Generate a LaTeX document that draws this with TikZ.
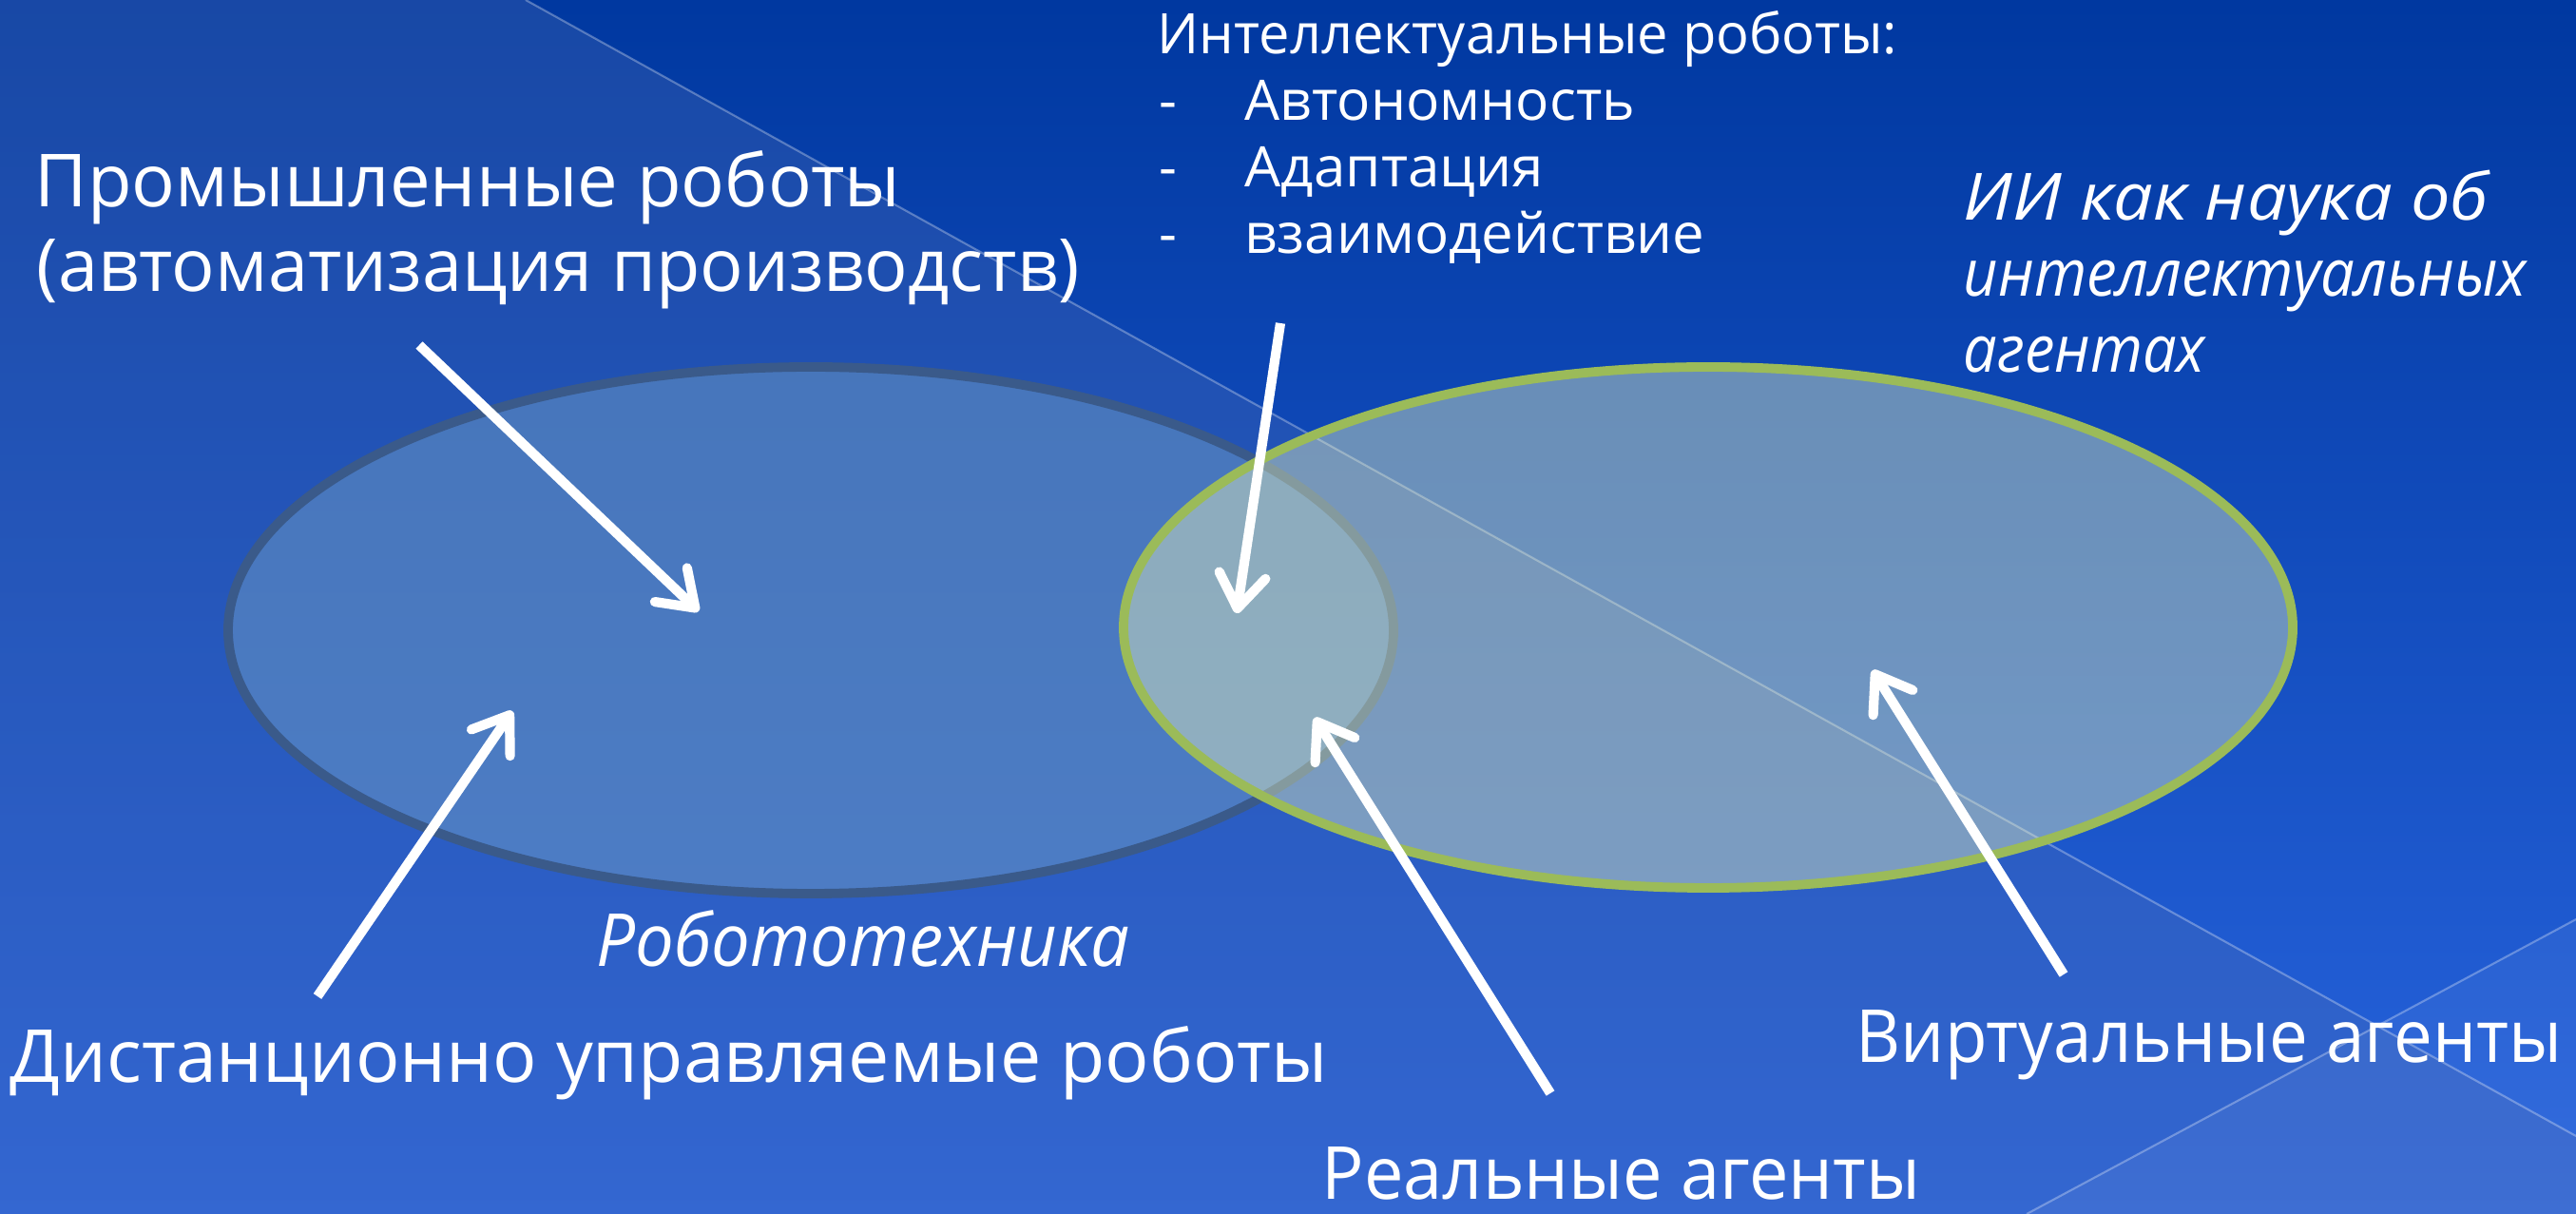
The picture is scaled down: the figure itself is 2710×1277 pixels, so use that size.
\documentclass[tikz,border=0pt]{standalone}
\usepackage{fontspec}
\usepackage{graphicx}
\setmainfont{Open Sans}
\usetikzlibrary{arrows.meta}
\newsavebox\fitbox
\newcommand\fitx[2]{\sbox\fitbox{#2}\pgfmathsetmacro\fitratio{#1*0.28453/\the\wd\fitbox}\scalebox{\fitratio}[1]{\usebox\fitbox}}
\definecolor{bgtop}{RGB}{0,56,160}
\definecolor{bgbot}{RGB}{40,100,222}
\definecolor{overlayA}{RGB}{80,110,180}
\definecolor{leftfill}{RGB}{110,155,196}
\definecolor{leftstroke}{RGB}{58,90,138}
\definecolor{rightfill}{RGB}{245,252,190}
\definecolor{rightstroke}{RGB}{155,187,89}
\begin{document}
\begin{tikzpicture}[x=0.01cm,y=-0.01cm,
  txt/.style={text=white, inner sep=0pt, anchor=base west, font=\fontsize{21.9}{26}\selectfont},
  itxt/.style={txt, font=\fontsize{21.9}{26}\selectfont\itshape},
  listtxt/.style={txt, font=\fontsize{16.7}{20}\selectfont},
  aitxt/.style={txt, font=\fontsize{19.5}{23}\selectfont\itshape},
  arr/.style={draw=white, line width=2.9pt, -{Straight Barb[length=10pt,width=14pt,round]}},
  bgline/.style={draw=white, draw opacity=0.3, line width=0.6pt}]
\useasboundingbox (0,0) rectangle (2710,1277);
% background
\shade[top color=bgtop, bottom color=bgbot] (0,0) rectangle (2710,1277);
\fill[overlayA, opacity=0.3] (0,0) -- (553,0) -- (2710,1195) -- (2710,1277) -- (0,1277) -- cycle;
\fill[white, opacity=0.05] (2132,1277) -- (2710,967) -- (2710,1277) -- cycle;
\coordinate (l1a) at (553,0);
\coordinate (l1b) at (2710,1195);
\coordinate (l2a) at (2132,1277);
\coordinate (l2b) at (2710,967);
\draw[bgline] (l1a) -- (l1b);
\draw[bgline] (l2a) -- (l2b);
% ellipses
\draw[leftstroke, line width=2.8pt, fill=leftfill, fill opacity=0.5] (853,663) ellipse [x radius=613, y radius=277];
\draw[rightstroke, line width=2.8pt, fill=rightfill, fill opacity=0.4] (1797,660) ellipse [x radius=615, y radius=274];
% texts
\node[txt] (p1) at (36,218) {\fitx{910}{Промышленные роботы}};
\node[txt] (p2) at (38,307) {\fitx{1096}{(автоматизация производств)}};
\node[listtxt] (i0) at (1217,57) {\fitx{778}{Интеллектуальные роботы:}};
\node[listtxt] (d1) at (1219,127) {-};
\node[listtxt] (i1) at (1309,127) {\fitx{410}{Автономность}};
\node[listtxt] (d2) at (1219,197) {-};
\node[listtxt] (i2) at (1309,197) {\fitx{314}{Адаптация}};
\node[listtxt] (d3) at (1219,267) {-};
\node[listtxt] (i3) at (1309,267) {\fitx{483}{взаимодействие}};
\node[aitxt] (a1) at (2065,232) {\fitx{552}{ИИ как наука об}};
\node[aitxt] (a2) at (2065,312) {\fitx{592}{интеллектуальных}};
\node[aitxt] (a3) at (2065,392) {\fitx{254}{агентах}};
\node[itxt] (rt) at (627,1016) {\fitx{560}{Робототехника}};
\node[txt] (dr) at (10,1138) {\fitx{1385}{Дистанционно управляемые роботы}};
\node[txt] (ra) at (1390,1261) {\fitx{629}{Реальные агенты}};
\node[txt] (va) at (1952,1117) {\fitx{742}{Виртуальные агенты}};
% arrows
\coordinate (s1) at (441,363);   \coordinate (e1) at (735,643);
\coordinate (s2) at (1347,340);  \coordinate (e2) at (1301,645);
\coordinate (s3) at (334,1048);  \coordinate (e3) at (539,748);
\coordinate (s4) at (1631,1150); \coordinate (e4) at (1383,755);
\coordinate (s5) at (2171,1025); \coordinate (e5) at (1970,705);
\draw[arr] (s1) -- (e1);
\draw[arr] (s2) -- (e2);
\draw[arr] (s3) -- (e3);
\draw[arr] (s4) -- (e4);
\draw[arr] (s5) -- (e5);
\end{tikzpicture}
\end{document}
